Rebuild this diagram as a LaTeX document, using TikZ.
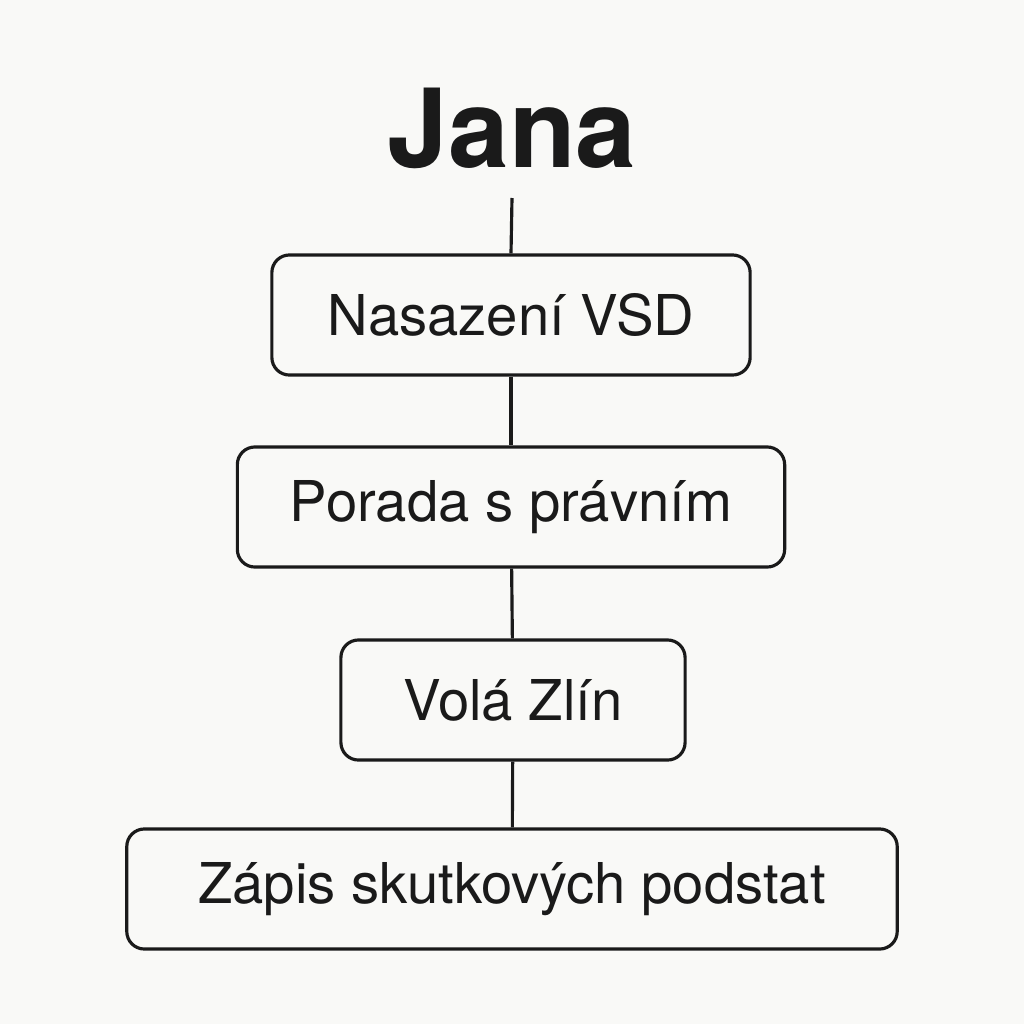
\documentclass[tikz,border=0pt]{standalone}
\usepackage{fontspec}
\setmainfont{TeX Gyre Heros}
\usetikzlibrary{positioning}
\definecolor{paper}{HTML}{F9F9F7}
\definecolor{ink}{HTML}{1A1A1A}
\tikzset{stage/.style={draw=ink,line width=0.9pt,rounded corners=5pt,minimum height=1.2cm,inner sep=0pt,font=\fontsize{16}{18}\selectfont,text=ink}}
\begin{document}
\begin{tikzpicture}[x=0.01cm,y=-0.01cm]
\fill[paper] (0,0) rectangle (1024,1024);
\useasboundingbox (0,0) rectangle (1024,1024);
\node[font=\fontsize{31}{34}\selectfont\bfseries,text=ink] (jana) at (512,128) {Jana};
\coordinate (top) at (512,198);
\node[stage,minimum width=4.78cm] (vsd) at (511,315) {Nasazení VSD};
\node[stage,minimum width=5.47cm] (porada) at (511,507) {Porada s právním};
\node[stage,minimum width=3.44cm] (zlin) at (513,700) {Volá Zlín};
\node[stage,minimum width=7.70cm] (zapis) at (512,889) {Zápis skutkových podstat};
% spine
\draw[ink,line width=0.9pt] (top) -- (vsd.north);
\draw[ink,line width=0.9pt] (vsd) -- (porada);
\draw[ink,line width=0.9pt] (porada) -- (zlin);
\draw[ink,line width=0.9pt] (zlin) -- (zapis);
\end{tikzpicture}
\end{document}
